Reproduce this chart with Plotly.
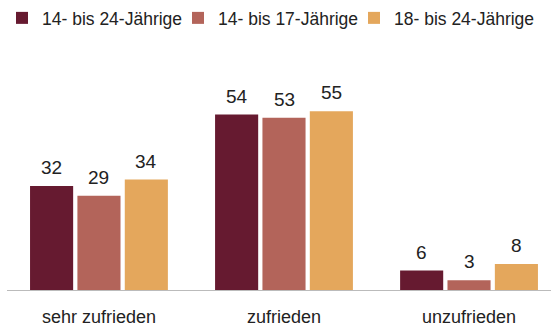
import plotly.graph_objects as go

categories = ["sehr zufrieden", "zufrieden", "unzufrieden"]
series_names = ["14- bis 24-Jährige", "14- bis 17-Jährige", "18- bis 24-Jährige"]
values_14_24 = [32, 54, 6]
values_14_17 = [29, 53, 3]
values_18_24 = [34, 55, 8]
colors = ["#661a30", "#b3645a", "#e4a75c"]

FONT = "Liberation Sans, Arial, sans-serif"
BARGAP = 0.232
BARGROUPGAP = 0.09
WIDTH, HEIGHT = 551, 329

all_series = [values_14_24, values_14_17, values_18_24]
n_series = len(all_series)
legend_ids = ["legend", "legend2", "legend3"]
legend_left_px = [2, 178, 354]

fig = go.Figure()
for name, vals, col, lg in zip(series_names, all_series, colors, legend_ids):
    fig.add_trace(go.Bar(
        x=categories, y=vals, name=name, legend=lg,
        marker=dict(color=col, line=dict(width=0)),
    ))

# value labels above each bar, centred on the bar's slot within its group
slot = (1 - BARGAP) / n_series
for s, vals in enumerate(all_series):
    for c, v in enumerate(vals):
        fig.add_annotation(
            x=c + (s - (n_series - 1) / 2) * slot, y=v, xref="x", yref="y",
            text=str(v), showarrow=False, yanchor="bottom", yshift=6,
            font=dict(size=19, color="#222222", family=FONT),
        )

# one single-entry legend per series, laid out in a row along the top
legend_style = dict(orientation="h", y=1.0, xref="container", yref="container",
                    xanchor="left", yanchor="top", font=dict(size=17.5),
                    bgcolor="rgba(0,0,0,0)")
legends = {lg: dict(x=px / WIDTH, **legend_style) for lg, px in zip(legend_ids, legend_left_px)}

fig.update_layout(
    width=WIDTH, height=HEIGHT,
    margin=dict(l=7, r=0, t=60, b=39),
    paper_bgcolor="white", plot_bgcolor="white",
    barmode="group", bargap=BARGAP, bargroupgap=BARGROUPGAP,
    font=dict(family=FONT, size=18, color="#222222"),
    showlegend=True,
    xaxis=dict(type="category", range=[-0.497, 2.443], showline=True,
               linecolor="#bbbbbb", linewidth=1, ticks="", showgrid=False,
               tickfont=dict(size=18), ticklabelstandoff=10),
    yaxis=dict(range=[0, 70.77], visible=False),
    **legends,
)

fig.write_html("out.html")
